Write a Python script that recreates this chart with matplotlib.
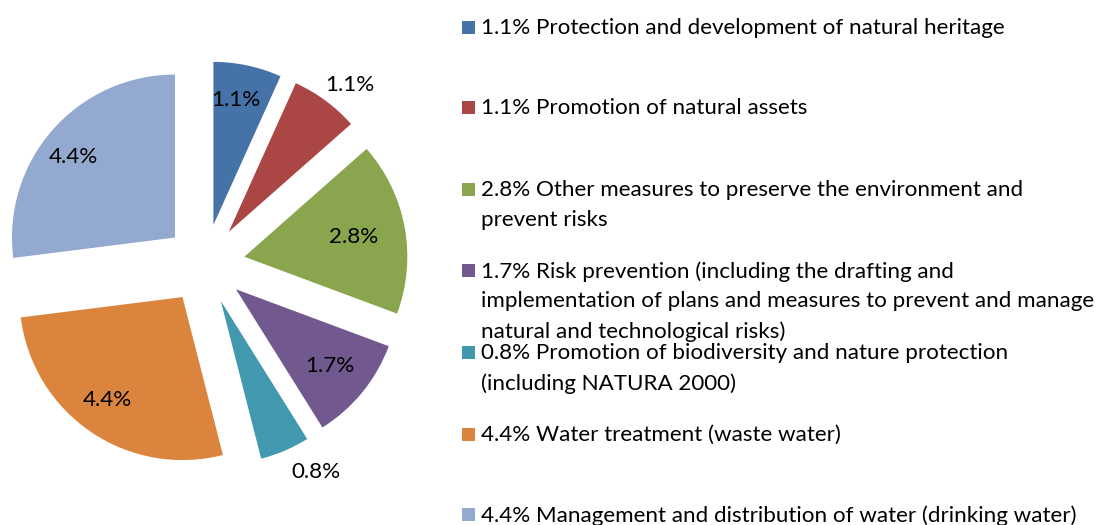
import matplotlib
matplotlib.use("Agg")
import matplotlib.pyplot as plt
import numpy as np

plt.rcParams['font.family'] = ['Lato', 'DejaVu Sans']

values = [1.1, 1.1, 2.8, 1.7, 0.8, 4.4, 4.4]
pct_labels = ["1.1%", "1.1%", "2.8%", "1.7%", "0.8%", "4.4%", "4.4%"]
legend_labels = [
    "1.1% Protection and development of natural heritage",
    "1.1% Promotion of natural assets",
    "2.8% Other measures to preserve the environment and\nprevent risks",
    "1.7% Risk prevention (including the drafting and\nimplementation of plans and measures to prevent and manage\nnatural and technological risks)",
    "0.8% Promotion of biodiversity and nature protection\n(including NATURA 2000)",
    "4.4% Water treatment (waste water)",
    "4.4% Management and distribution of water (drinking water)",
]
colors = ["#4572A7", "#AA4643", "#89A54E", "#71588F", "#4198AF", "#DB843D", "#93A9CF"]
label_dist = [0.78, 1.17, 0.68, 0.74, 1.2, 0.78, 0.80]
label_dang = [-2, 3, 0, 0, -6, 2, -3]  # small angular nudges (degrees, clockwise)

W, H = 1097, 525
fig = plt.figure(figsize=(W / 100, H / 100), dpi=100)
ax = fig.add_axes([0, 0, 1, 1])

R = 163
cx, cy = 205, H - 264
wedges, _ = ax.pie(values, colors=colors, startangle=90, counterclock=False,
                   explode=[40] * len(values), radius=R, center=(cx, cy),
                   wedgeprops=dict(linewidth=0), frame=True)
ax.set_xlim(0, W)
ax.set_ylim(0, H)
ax.set_aspect('equal')
ax.axis('off')

fs = 16.1
for w, lab, d, da in zip(wedges, pct_labels, label_dist, label_dang):
    ang = np.deg2rad((w.theta1 + w.theta2) / 2 - da)
    x0, y0 = w.center
    ax.text(x0 + d * R * np.cos(ang), y0 + d * R * np.sin(ang), lab,
            ha='center', va='center', fontsize=fs, color='black')

# legend
leg_y = [27, 107, 189, 270, 352, 434, 514]
sq = 13
for y, c, t in zip(leg_y, colors, legend_labels):
    ax.add_patch(plt.Rectangle((462, H - y - sq / 2), sq, sq, color=c, lw=0))
    ax.text(481, H - y + 9, t, ha='left', va='top', fontsize=fs,
            linespacing=1.6, color='black')

fig.savefig("out.png", dpi=100)
